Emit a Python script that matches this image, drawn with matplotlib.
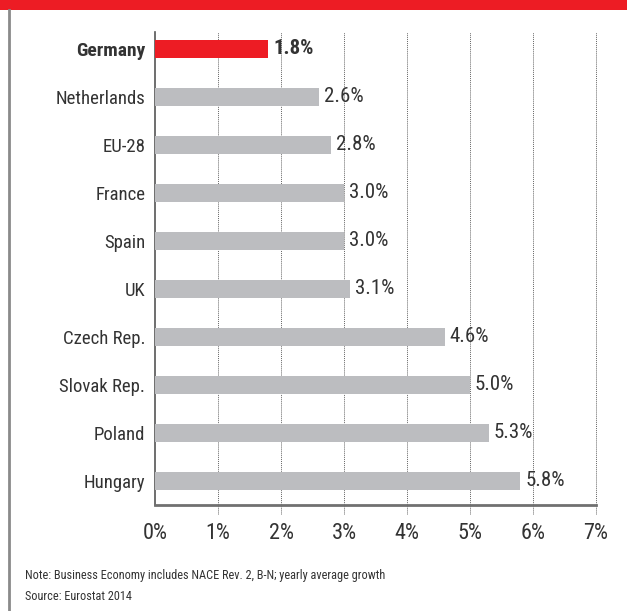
import matplotlib.pyplot as plt
from matplotlib import font_manager
from matplotlib.lines import Line2D
from matplotlib.patches import Rectangle

# data
countries = ["Germany", "Netherlands", "EU-28", "France", "Spain", "UK",
             "Czech Rep.", "Slovak Rep.", "Poland", "Hungary"]
growth = [1.8, 2.6, 2.8, 3.0, 3.0, 3.1, 4.6, 5.0, 5.3, 5.8]
ticks = [0, 1, 2, 3, 4, 5, 6, 7]
tick_labels = ["0%", "1%", "2%", "3%", "4%", "5%", "6%", "7%"]
note = "Note: Business Economy includes NACE Rev. 2, B-N; yearly average growth"
source = "Source: Eurostat 2014"

RED = "#ED1C24"
GREY = "#BCBDC0"
TXT = "#333333"

# look for a narrow font, the original uses a condensed face
names = {f.name for f in font_manager.fontManager.ttflist}
picked = "DejaVu Sans"
for cand in ["Roboto Condensed", "Liberation Sans Narrow", "Open Sans Condensed",
             "Noto Sans Condensed", "DejaVu Sans Condensed"]:
    if cand in names:
        picked = cand
        break
plt.rcParams["font.family"] = [picked, "DejaVu Sans"]

W, H = 627, 611
fig = plt.figure(figsize=(W / 100, H / 100), dpi=100)

# red band on top and grey frame line on the left
fig.add_artist(Rectangle((0, 1 - 10 / H), 1, 10 / H, transform=fig.transFigure,
                         color=RED, lw=0))
fig.add_artist(Line2D([8.5 / W, 8.5 / W], [0, 1 - 10 / H], transform=fig.transFigure,
                      color="#8a8a8a", lw=2))

ax = fig.add_axes([155 / W, 1 - 505 / H, (596 - 155) / W, (505 - 32) / H])

colors = [RED if c == "Germany" else GREY for c in countries]
ypos = list(range(len(countries)))
ax.barh(ypos, growth, height=0.37, color=colors, zorder=3)

ax.set_xlim(0, 7)
ax.set_ylim(9.5, -0.354)

# dotted grid lines, running a bit below the axis
for t in ticks[1:]:
    ax.plot([t, t], [-0.02, 1], transform=ax.get_xaxis_transform(),
            color="#666666", lw=0.7, ls=(0, (1, 1)), clip_on=False, zorder=1)

for s in ["top", "right"]:
    ax.spines[s].set_visible(False)
ax.spines["left"].set_color("#555555")
ax.spines["left"].set_linewidth(1.2)
ax.spines["bottom"].set_color("#707070")
ax.spines["bottom"].set_linewidth(2)

ax.set_xticks(ticks)
ax.set_xticklabels(tick_labels, fontsize=16, color=TXT)
ax.tick_params(axis="x", length=0, pad=13)
ax.set_yticks(ypos)
ax.set_yticklabels(countries, fontsize=13.5, color=TXT)
ax.tick_params(axis="y", length=0, pad=7)
for lab in ax.get_yticklabels():
    if lab.get_text() == "Germany":
        lab.set_fontweight("bold")
        lab.set_fontsize(14)

for y, v, c in zip(ypos, growth, countries):
    ax.annotate(f"{v:.1f}%", (v, y), xytext=(3.5, 0), textcoords="offset points",
                va="center", ha="left", fontsize=15, color=TXT,
                fontweight="bold" if c == "Germany" else "normal")

fig.text(25 / W, 1 - 576 / H, note, fontsize=8.8, color=TXT, va="center")
fig.text(25 / W, 1 - 597 / H, source, fontsize=8.8, color=TXT, va="center")

fig.savefig("out.png", dpi=100, facecolor="white")
